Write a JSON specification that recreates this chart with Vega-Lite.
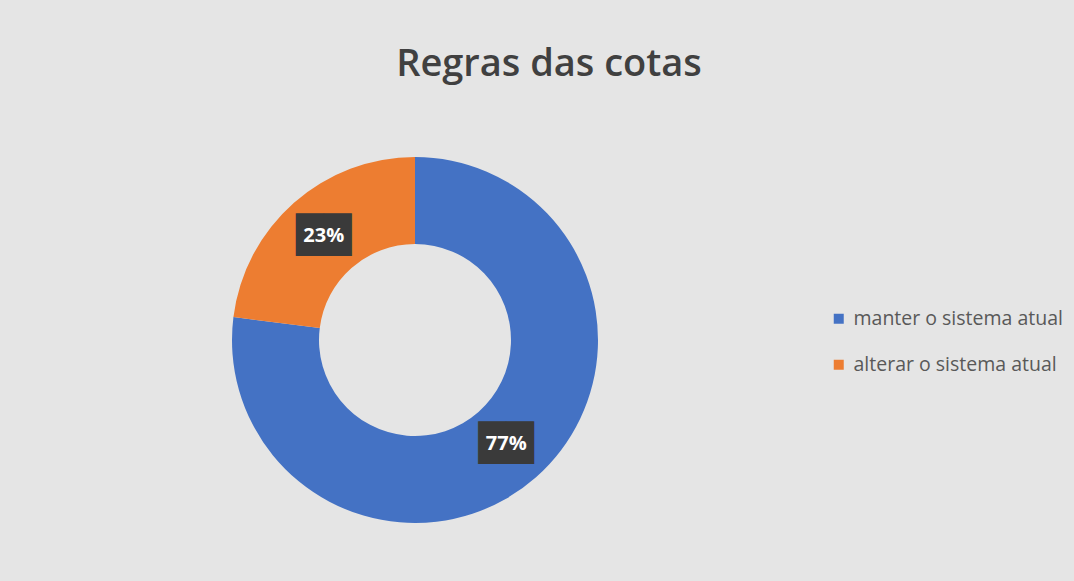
{
  "$schema": "https://vega.github.io/schema/vega-lite/v6.json",
  "autosize": "none",
  "width": 814,
  "height": 482,
  "padding": {"left": 8, "top": 99, "right": 252, "bottom": 0},
  "background": "#e5e5e5",
  "title": {
    "text": "Regras das cotas",
    "font": "Open Sans",
    "fontSize": 38,
    "fontWeight": 600,
    "color": "#404040",
    "anchor": "middle",
    "frame": "group",
    "dx": 134,
    "dy": 38,
    "baseline": "alphabetic",
    "offset": 23
  },
  "data": {
    "values": [
      {"category": "manter o sistema atual", "share": 0.77},
      {"category": "alterar o sistema atual", "share": 0.23}
    ]
  },
  "encoding": {
    "theta": {"field": "share", "type": "quantitative", "stack": true},
    "order": {"field": "category", "type": "nominal", "sort": "descending"}
  },
  "layer": [
    {
      "mark": {"type": "arc", "outerRadius": 183, "innerRadius": 96},
      "encoding": {
        "color": {
          "field": "category",
          "type": "nominal",
          "scale": {
            "domain": ["manter o sistema atual", "alterar o sistema atual"],
            "range": ["#4472c4", "#ed7d31"]
          },
          "legend": {
            "title": null,
            "orient": "none",
            "legendX": 821,
            "legendY": 210,
            "labelFont": "Open Sans",
            "labelFontSize": 19.5,
            "labelColor": "#595959",
            "labelLimit": 0,
            "symbolType": "square",
            "symbolSize": 100,
            "symbolStrokeWidth": 0,
            "symbolOpacity": 1,
            "rowPadding": 25,
            "labelOffset": 5
          }
        }
      }
    },
    {
      "mark": {"type": "text", "radius": 138, "font": "DejaVu Sans", "fontSize": 36, "baseline": "middle", "align": "center"},
      "encoding": {
        "detail": {"field": "category", "type": "nominal"},
        "text": {"value": "██"},
        "color": {"value": "#3a3a3a"}
      }
    },
    {
      "mark": {"type": "text", "radius": 138, "font": "Open Sans", "fontSize": 20, "fontWeight": "bold", "baseline": "middle", "align": "center"},
      "encoding": {
        "detail": {"field": "category", "type": "nominal"},
        "text": {"field": "share", "type": "quantitative", "format": ".0%"},
        "color": {"value": "#ffffff"}
      }
    }
  ],
  "config": {"view": {"stroke": null}}
}
